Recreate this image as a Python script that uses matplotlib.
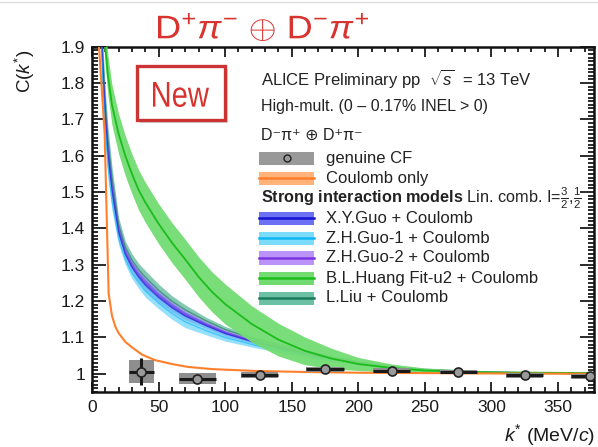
import matplotlib
matplotlib.use("Agg")
import matplotlib.pyplot as plt
from matplotlib.patches import Rectangle, PathPatch
from matplotlib.ticker import MultipleLocator
from matplotlib.textpath import TextPath
from matplotlib.font_manager import FontProperties
from matplotlib.transforms import Affine2D

plt.rcParams['font.family'] = ['Liberation Sans', 'DejaVu Sans']
plt.rcParams['mathtext.fontset'] = 'custom'
plt.rcParams['mathtext.rm'] = 'Liberation Sans'
plt.rcParams['mathtext.it'] = 'Liberation Sans:italic'
plt.rcParams['mathtext.bf'] = 'Liberation Sans:bold'
plt.rcParams['mathtext.sf'] = 'Liberation Sans'

# ---------------- data ----------------
k_data = [37, 79, 126, 175, 225, 275, 325, 374]
C_data = [1.006, 0.987, 0.996, 1.013, 1.008, 1.0055, 0.9955, 0.993]
stat_err = [0.037, 0.008, 0.006, 0.005, 0.005, 0.004, 0.004, 0.004]
syst_err = [0.031, 0.0145, 0.008, 0.007, 0.007, 0.006, 0.006, 0.006]
k_halfwidth = [9.5, 14, 14, 14, 14, 14, 14, 14]

k_coul = [3.5, 9.5, 12.5, 15, 17.5, 20, 25, 30, 37.5, 47, 60, 72, 90, 122, 160, 200, 250, 300, 380]
C_coul = [2.0, 1.66, 1.22, 1.16, 1.13, 1.112, 1.088, 1.073, 1.053, 1.038, 1.027, 1.019, 1.013, 1.008, 1.005, 1.003, 1.002, 1.001, 1.0]

k_mod = [6, 8, 10, 12, 15, 20, 25, 30, 35, 40, 50, 60, 70, 85, 100, 122, 140, 172, 200, 222, 250, 300, 380]
zhguo1 = [2.007, 1.811, 1.671, 1.571, 1.477, 1.372, 1.315, 1.277, 1.251, 1.228, 1.195, 1.166, 1.143, 1.120, 1.100, 1.079, 1.066, 1.042, 1.0275, 1.017, 1.009, 1.0035, 1.0]
zhguo1_err = [0.027, 0.032, 0.032, 0.032, 0.027, 0.017, 0.015, 0.015, 0.016, 0.017, 0.016, 0.016, 0.016, 0.012, 0.010, 0.007, 0.006, 0.004, 0.003, 0.002, 0.0015, 0.001, 0.0005]
xyguo = [2.034, 1.843, 1.703, 1.603, 1.504, 1.389, 1.329, 1.293, 1.266, 1.244, 1.210, 1.182, 1.159, 1.134, 1.111, 1.087, 1.072, 1.046, 1.030, 1.019, 1.011, 1.004, 1.0]
xyguo_err = [0.024, 0.028, 0.028, 0.028, 0.024, 0.015, 0.013, 0.014, 0.014, 0.015, 0.013, 0.012, 0.011, 0.008, 0.007, 0.005, 0.005, 0.004, 0.002, 0.002, 0.001, 0.0005, 0.0003]
zhguo2 = [2.042, 1.853, 1.713, 1.613, 1.512, 1.394, 1.334, 1.297, 1.271, 1.249, 1.215, 1.186, 1.163, 1.137, 1.114, 1.089, 1.074, 1.047, 1.031, 1.020, 1.011, 1.004, 1.0]
zhguo2_err = [0.024, 0.028, 0.028, 0.028, 0.024, 0.015, 0.013, 0.014, 0.014, 0.015, 0.013, 0.012, 0.011, 0.008, 0.007, 0.005, 0.005, 0.004, 0.002, 0.002, 0.001, 0.0005, 0.0003]
lliu = [2.07, 1.885, 1.745, 1.645, 1.54, 1.411, 1.349, 1.313, 1.287, 1.266, 1.230, 1.200, 1.176, 1.147, 1.122, 1.095, 1.079, 1.052, 1.033, 1.022, 1.0125, 1.0045, 1.001]
lliu_err = [0.03, 0.035, 0.035, 0.035, 0.03, 0.019, 0.016, 0.017, 0.017, 0.0185, 0.017, 0.015, 0.014, 0.010, 0.0085, 0.007, 0.006, 0.0045, 0.003, 0.002, 0.0015, 0.0005, 0.0003]

k_green = [8, 10, 12, 15, 20, 25, 30, 35, 40, 50, 60, 70, 80, 90, 100, 120, 140, 160, 180, 200, 225, 250, 300, 380]
huang = [2.0, 1.90, 1.82, 1.74, 1.66, 1.60, 1.55, 1.506, 1.472, 1.413, 1.361, 1.315, 1.267, 1.226, 1.192, 1.137, 1.094, 1.063, 1.042, 1.027, 1.016, 1.009, 1.004, 1.002]
huang_err = [0.055, 0.055, 0.055, 0.055, 0.055, 0.055, 0.055, 0.055, 0.055, 0.055, 0.055, 0.055, 0.055, 0.055, 0.055, 0.05, 0.045, 0.038, 0.028, 0.018, 0.011, 0.007, 0.003, 0.002]

x_ticks = [0, 50, 100, 150, 200, 250, 300, 350]
y_ticks = [1.0, 1.1, 1.2, 1.3, 1.4, 1.5, 1.6, 1.7, 1.8, 1.9]
y_ticklabels = ['1', '1.1', '1.2', '1.3', '1.4', '1.5', '1.6', '1.7', '1.8', '1.9']

models = [
    ("L.Liu + Coulomb", lliu, lliu_err, '#5cb89c', '#1b7a5c'),
    ("Z.H.Guo-2 + Coulomb", zhguo2, zhguo2_err, '#b38af5', '#7a35e0'),
    ("X.Y.Guo + Coulomb", xyguo, xyguo_err, '#5f64f0', '#1515d0'),
    ("Z.H.Guo-1 + Coulomb", zhguo1, zhguo1_err, '#72d6fa', '#12b5f2'),
]

W, H = 598, 447
fig = plt.figure(figsize=(W / 100, H / 100), dpi=100)
ax = fig.add_axes([92 / W, (H - 392) / H, (594 - 92) / W, (392 - 46.7) / H])

for name, c, e, fc, lc in models:
    lo = [a - b for a, b in zip(c, e)]
    hi = [a + b for a, b in zip(c, e)]
    ax.fill_between(k_mod, lo, hi, color=fc, alpha=0.75, lw=0, zorder=2)
for name, c, e, fc, lc in models:
    ax.plot(k_mod, c, color=lc, lw=1.0, zorder=3, alpha=0.6)

glo = [a - b for a, b in zip(huang, huang_err)]
ghi = [a + b for a, b in zip(huang, huang_err)]
ax.fill_between(k_green, glo, ghi, color='#72dc72', alpha=0.95, lw=0, zorder=4)
ax.plot(k_green, huang, color='#1cbc1c', lw=1.3, zorder=5)

ax.plot(k_coul, C_coul, color='#ff7f2a', lw=1.5, zorder=6)

for k, c, s, w in zip(k_data, C_data, syst_err, k_halfwidth):
    ax.add_patch(Rectangle((k - w, c - s), 2 * w, 2 * s, facecolor='#8e8e8e',
                           edgecolor='none', zorder=7))
ax.errorbar(k_data, C_data, yerr=stat_err, xerr=k_halfwidth, fmt='o', ms=6.5,
            mfc='#9a9a9a', mec='#222222', mew=1.2, ecolor='#1a1a1a', elinewidth=2.2,
            capsize=0, zorder=8)

ax.set_xlim(0, 377)
ax.set_ylim(0.95, 1.9)
ax.set_xticks(x_ticks)
ax.set_xticklabels([str(v) for v in x_ticks])
ax.set_yticks(y_ticks)
ax.set_yticklabels(y_ticklabels)
ax.xaxis.set_minor_locator(MultipleLocator(10))
ax.yaxis.set_minor_locator(MultipleLocator(0.01))
ax.tick_params(which='both', direction='in', top=True, right=True, labelsize=12.5,
               colors='#1a1a1a', width=1.3)
ax.tick_params(axis='x', which='major', length=7, pad=6)
ax.tick_params(axis='x', which='minor', length=3.8)
ax.tick_params(axis='y', which='major', length=10, pad=5)
ax.tick_params(axis='y', which='minor', length=4.5)
for sp in ax.spines.values():
    sp.set_linewidth(1.8)
    sp.set_color('#111111')


def P(x, y):
    return (x / W, 1 - y / H)


def fit_text(s, x0, x1, ytop, ybot, color, family='Liberation Sans'):
    """Draw text s as a path stretched into the pixel box (x0..x1, ytop..ybot)."""
    tp = TextPath((0, 0), s, size=100, prop=FontProperties(family=family))
    ext = tp.get_extents()
    sx = (x1 - x0) / ext.width
    sy = (ybot - ytop) / ext.height
    tr = Affine2D().translate(-ext.x0, -ext.y0).scale(sx, sy).translate(x0, H - ybot)
    patch = PathPatch(tp, transform=tr, facecolor=color, edgecolor='none', lw=0)
    fig.add_artist(patch)


# axis labels
fig.text(*P(25, 71), r'C($k^{*}$)', rotation=90, ha='center', va='center', fontsize=13.5, color='#1a1a1a')
fig.text(*P(595, 435), r'$k^{*}$ (MeV/$c$)', ha='right', va='center', fontsize=14, color='#1a1a1a')

# title (red)
fit_text(r'D$^{+}\pi^{-}$ $\oplus$ D$^{-}\pi^{+}$', 158, 368, 13, 41, '#d8332f')
fig.add_artist(plt.Line2D([0, 1], [1 - 1.5 / H, 1 - 1.5 / H], color='#dddddd', lw=1))

# "New" box with shadow
sx0, sy0 = P(140, 123)
sx1, sy1 = P(228, 69)
fig.add_artist(Rectangle((sx0, sy0), sx1 - sx0, sy1 - sy0, transform=fig.transFigure,
                         facecolor='#bbbbbb', edgecolor='none', alpha=0.6))
bx0, by0 = P(137, 120)
bx1, by1 = P(225, 66)
fig.add_artist(Rectangle((bx0, by0), bx1 - bx0, by1 - by0, transform=fig.transFigure,
                         facecolor='white', edgecolor='#cc3333', lw=2.4))
fit_text('New', 153, 209, 82, 107, '#d8332f')

# legend header
fig.text(*P(261, 78), r'ALICE Preliminary pp  $\sqrt{s}$  = 13 TeV', ha='left', va='center',
         fontsize=12, color='#222222')
fig.text(*P(261, 107), 'High-mult. (0 \u2013 0.17% INEL > 0)', ha='left', va='center',
         fontsize=11.5, color='#222222')
fig.text(*P(261, 135), 'D\u207b\u03c0\u207a \u2295 D\u207a\u03c0\u207b', ha='left', va='center',
         fontsize=11.5, color='#222222')

sw_x0, sw_x1 = 259, 314
txt_x = 326
ENTRY_FS = 12


def swatch(yc, fc, lc=None, alpha=1.0):
    x0, y0 = P(sw_x0, yc + 6.5)
    x1, y1 = P(sw_x1, yc - 6.5)
    fig.add_artist(Rectangle((x0, y0), x1 - x0, y1 - y0, transform=fig.transFigure,
                             facecolor=fc, edgecolor='none', alpha=alpha))
    if lc is not None:
        ya = 1 - yc / H
        fig.add_artist(plt.Line2D([x0, x1], [ya, ya], color=lc, lw=1.8))


# genuine CF
swatch(158, '#999999')
fig.add_artist(plt.Line2D([P(286.5, 158)[0]], [P(286.5, 158)[1]], marker='o', ms=5,
                          mfc='#999999', mec='#222222', mew=1.0))
fig.text(*P(txt_x, 158), 'genuine CF', ha='left', va='center', fontsize=ENTRY_FS, color='#222222')
swatch(178, '#ffb27a', '#ff7f2a')
fig.text(*P(txt_x, 178), 'Coulomb only', ha='left', va='center', fontsize=ENTRY_FS, color='#222222')
fig.text(*P(261, 198), r'$\mathbf{Strong\ interaction\ models}$ Lin. comb. I=$\frac{3}{2}$,$\frac{1}{2}$',
         ha='left', va='center', fontsize=11.7, color='#222222')

leg_entries = [
    ("X.Y.Guo + Coulomb", '#6c70f2', '#1515d0'),
    ("Z.H.Guo-1 + Coulomb", '#7adcfa', '#12b5f2'),
    ("Z.H.Guo-2 + Coulomb", '#bb92f7', '#7a35e0'),
    ("B.L.Huang Fit-u2 + Coulomb", '#72dc72', '#1cbc1c'),
    ("L.Liu + Coulomb", '#6cc0a4', '#1b7a5c'),
]
for i, (name, fc, lc) in enumerate(leg_entries):
    yc = 218 + 20 * i
    swatch(yc, fc, lc)
    fig.text(*P(txt_x, yc), name, ha='left', va='center', fontsize=ENTRY_FS, color='#222222')

fig.savefig('out.png', dpi=100)
